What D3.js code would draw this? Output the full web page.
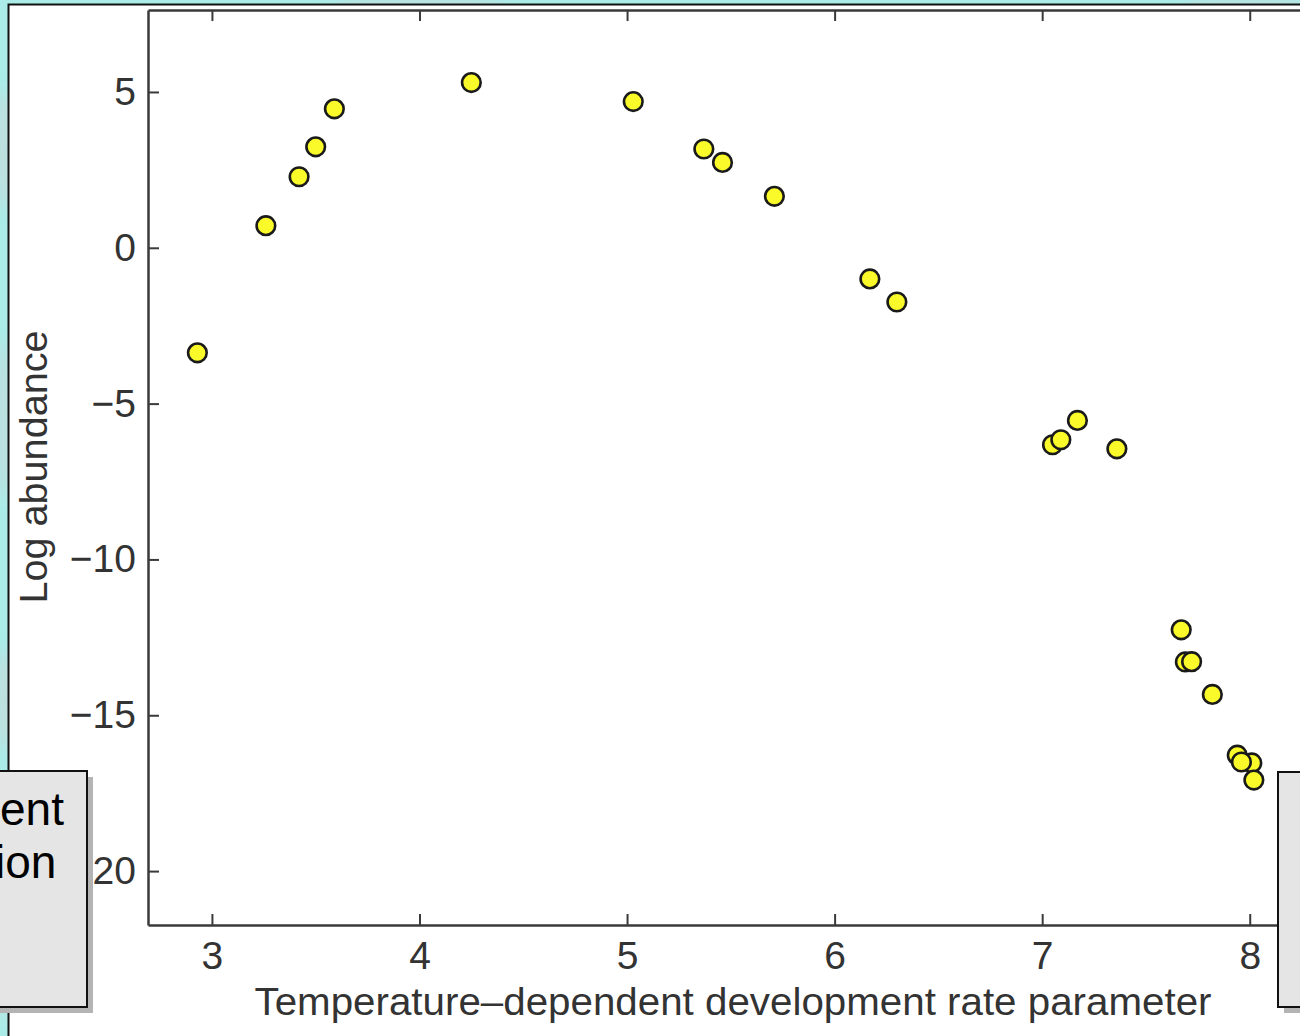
<!DOCTYPE html>
<html>
<head>
<meta charset="utf-8">
<script src="https://cdn.jsdelivr.net/npm/d3@7"></script>
<style>
  body { margin: 0; }
  svg { display: block; }
</style>
</head>
<body>
<svg id="drawing_region"></svg>
<script>
// data
var xValues = [2.93, 3.26, 3.42, 3.50, 3.59, 4.25, 5.03, 5.37, 5.46, 5.71, 6.17, 6.30,
               7.05, 7.09, 7.17, 7.36, 7.67, 7.69, 7.72, 7.82, 7.94, 8.01, 7.96, 8.02];
var yValues = [-3.37, 0.71, 2.28, 3.24, 4.46, 5.30, 4.69, 3.17, 2.74, 1.65, -1.00, -1.74,
               -6.32, -6.16, -5.54, -6.45, -12.26, -13.29, -13.28, -14.33, -16.28, -16.53, -16.50, -17.08];
var xTicks = [3, 4, 5, 6, 7, 8];
var yTicks = [5, 0, -5, -10, -15, -20];
var xLabel = 'Temperature\u2013dependent development rate parameter';
var yLabel = 'Log abundance';
var leftBoxLines = ['ent', 'ion'];

var width = 1300;
var height = 1036;
var font = '"Liberation Sans", Arial, sans-serif';

var svg = d3.select('#drawing_region')
    .attr('width', width)
    .attr('height', height);

// slide background
var defs = svg.append('defs');
defs.append('filter').attr('id', 'blur')
    .append('feGaussianBlur').attr('stdDeviation', 8);

svg.append('rect')
    .attr('width', width).attr('height', height)
    .attr('fill', '#abece8');
var streaks = [
    {cx: 5, cy: 150, rx: 10, ry: 60},
    {cx: 4, cy: 420, rx: 8, ry: 80},
    {cx: 6, cy: 700, rx: 10, ry: 50},
    {cx: 6, cy: 960, rx: 8, ry: 60},
    {cx: 420, cy: 0, rx: 90, ry: 6},
    {cx: 1250, cy: 0, rx: 70, ry: 5}
];
svg.append('g').attr('filter', 'url(#blur)')
    .selectAll('ellipse').data(streaks).join('ellipse')
    .attr('cx', d => d.cx).attr('cy', d => d.cy)
    .attr('rx', d => d.rx).attr('ry', d => d.ry)
    .attr('fill', '#c9d8da').attr('opacity', 0.8);

// white slide panel
svg.append('rect')
    .attr('x', 8.5).attr('y', 4.5)
    .attr('width', width + 20).attr('height', height + 20)
    .attr('fill', 'white')
    .attr('stroke', '#111').attr('stroke-width', 2);

// scales
const xscale = d3.scaleLinear()
      .domain([2.692, 8.30])
      .range([148, 1312]);
const yscale = d3.scaleLinear()
      .domain([-21.73, 7.63])
      .range([925, 10]);

var axisColor = '#3a3a3a';
var chart = svg.append('g');

// axes
const xaxis = d3.axisBottom(xscale).tickValues(xTicks).tickFormat(d3.format('d'))
      .tickSize(-11).tickPadding(14).tickSizeOuter(0);
const yaxis = d3.axisLeft(yscale).tickValues(yTicks).tickSize(-11).tickPadding(12).tickSizeOuter(0);
const xaxisTop = d3.axisTop(xscale).tickValues(xTicks).tickSize(-11).tickFormat('').tickSizeOuter(0);
const yaxisRight = d3.axisRight(yscale).tickValues(yTicks).tickSize(-11).tickFormat('').tickSizeOuter(0);

const xaxis_group = chart.append('g')
      .attr('transform', `translate(0, ${yscale.range()[0]})`)
      .call(xaxis);
const yaxis_group = chart.append('g')
      .attr('transform', `translate(${xscale.range()[0]}, 0)`)
      .call(yaxis);
chart.append('g')
      .attr('transform', `translate(0, ${yscale.range()[1]})`)
      .call(xaxisTop);
chart.append('g')
      .attr('transform', `translate(${xscale.range()[1]}, 0)`)
      .call(yaxisRight);

chart.selectAll('.domain').attr('stroke', axisColor).attr('stroke-width', 2.5);
chart.selectAll('.tick line').attr('stroke', axisColor).attr('stroke-width', 2);
chart.selectAll('.tick text')
    .attr('fill', '#333')
    .style('font-family', font)
    .style('font-size', '39px');
xaxis_group.selectAll('.tick text').attr('dy', '0.78em');

// axis labels
svg.append('text')
    .attr('x', 733).attr('y', 1015)
    .attr('text-anchor', 'middle')
    .attr('fill', '#333')
    .attr('textLength', 957).attr('lengthAdjust', 'spacingAndGlyphs')
    .style('font-family', font).style('font-size', '38px')
    .text(xLabel);
svg.append('text')
    .attr('transform', 'translate(47, 467) rotate(-90)')
    .attr('text-anchor', 'middle')
    .attr('fill', '#333')
    .attr('textLength', 273).attr('lengthAdjust', 'spacingAndGlyphs')
    .style('font-family', font).style('font-size', '38px')
    .text(yLabel);

// points
var points = xValues.map((x, i) => ({x: x, y: yValues[i]}));
chart.append('g').selectAll('circle').data(points).join('circle')
    .attr('cx', d => xscale(d.x))
    .attr('cy', d => yscale(d.y))
    .attr('r', 9.3)
    .attr('fill', '#fafa2a')
    .attr('stroke', '#1a1a1a')
    .attr('stroke-width', 2.6);

// overlapping slide boxes
var boxes = [
    {x: -10, y: 771, w: 97, h: 236},
    {x: 1278, y: 772, w: 40, h: 235}
];
var boxG = svg.append('g');
boxG.selectAll('rect.shadow').data(boxes).join('rect')
    .attr('class', 'shadow')
    .attr('x', d => d.x + 6).attr('y', d => d.y + 6)
    .attr('width', d => d.w).attr('height', d => d.h)
    .attr('fill', '#b4b4b4');
boxG.selectAll('rect.box').data(boxes).join('rect')
    .attr('class', 'box')
    .attr('x', d => d.x).attr('y', d => d.y)
    .attr('width', d => d.w).attr('height', d => d.h)
    .attr('fill', '#e5e5e5')
    .attr('stroke', '#111').attr('stroke-width', 2);

boxG.selectAll('text').data(leftBoxLines).join('text')
    .attr('x', (d, i) => i === 0 ? 0 : -5).attr('y', (d, i) => 825 + i * 53)
    .attr('text-anchor', 'start')
    .attr('fill', '#000')
    .style('font-family', font).style('font-size', '46px')
    .text(d => d);
</script>
</body>
</html>
